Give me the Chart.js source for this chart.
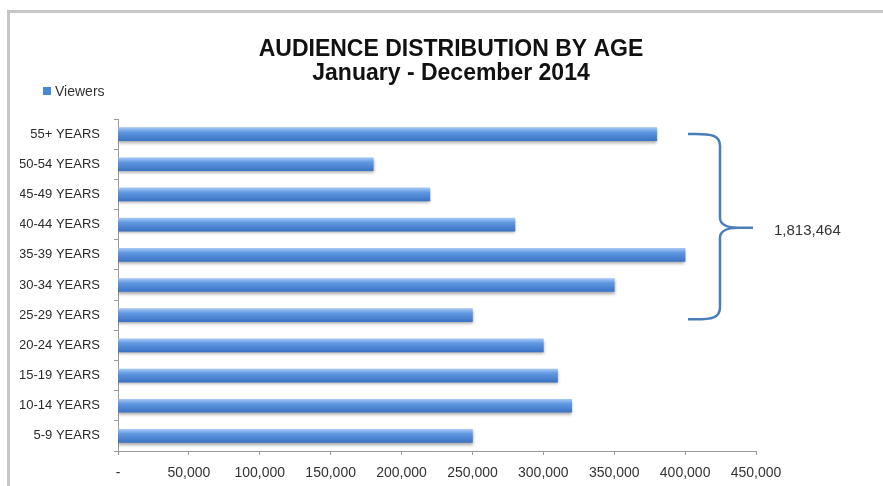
<!DOCTYPE html>
<html>
<head>
<meta charset="utf-8">
<script src="https://cdn.jsdelivr.net/npm/chart.js@4/dist/chart.umd.min.js"></script>
<style>
  html, body { margin: 0; padding: 0; background: #fff; }
  .wrap { position: relative; width: 883px; height: 486px; overflow: hidden; }
  .frame { position: absolute; left: 7px; top: 10px; right: -10px; bottom: -10px;
    border-left: 3px solid #c6c6c6; border-top: 3px solid #c6c6c6; }
  canvas { position: absolute; left: 0; top: 0; }
</style>
</head>
<body>
<div class="wrap">
  <div class="frame"></div>
  <canvas id="chart" width="883" height="486"></canvas>
</div>
<script>
// Audience distribution by age, Jan - Dec 2014 (horizontal bars)

const titleLines = ['AUDIENCE DISTRIBUTION BY AGE', 'January - December 2014'];
const seriesName = 'Viewers';
const ageGroups = ['55+ YEARS', '50-54 YEARS', '45-49 YEARS', '40-44 YEARS', '35-39 YEARS',
    '30-34 YEARS', '25-29 YEARS', '20-24 YEARS', '15-19 YEARS', '10-14 YEARS', '5-9 YEARS'];
const viewers = [380000, 180000, 220000, 280000, 400000, 350000, 250000, 300000, 310000, 320000, 250000];
const bracketFrom = '55+ YEARS';
const bracketTo = '25-29 YEARS';
const bracketLabel = '1,813,464';

const FONT = '"Liberation Sans", Arial, sans-serif';
const BLUE = '#4a86d8';

// vertical gradient for each bar, placed with the category scale
function barGradient(c) {
    const chart = c.chart;
    const y = chart.scales.y;
    if (!y || !chart.chartArea || c.dataIndex === undefined) return BLUE;
    const py = y.getPixelForValue(c.dataIndex);
    if (!isFinite(py)) return BLUE;
    const g = chart.ctx.createLinearGradient(0, py - 6.5, 0, py + 6.5);
    g.addColorStop(0, '#a4c7f4');
    g.addColorStop(0.35, '#5f97e1');
    g.addColorStop(1, '#3c74c5');
    return g;
}

// title, legend, bracket and its total
const decorPlugin = {
    id: 'decor',
    beforeDatasetsDraw: function (chart) {
        const ctx = chart.ctx;
        ctx.save();
        ctx.shadowColor = 'rgba(0,0,0,0.35)';
        ctx.shadowBlur = 3;
        ctx.shadowOffsetY = 2;
    },
    afterDatasetsDraw: function (chart) {
        chart.ctx.restore();
    },
    afterDraw: function (chart) {
        const ctx = chart.ctx;
        const area = chart.chartArea;
        ctx.save();

        // title
        ctx.fillStyle = '#111';
        ctx.font = 'bold 23px ' + FONT;
        ctx.textAlign = 'center';
        ctx.textBaseline = 'alphabetic';
        ctx.fillText(titleLines[0], 451, 56);
        ctx.fillText(titleLines[1], 451, 80);

        // legend
        ctx.fillStyle = BLUE;
        ctx.fillRect(43, 87, 8, 8);
        ctx.fillStyle = '#333';
        ctx.font = '14px ' + FONT;
        ctx.textAlign = 'left';
        ctx.textBaseline = 'middle';
        ctx.fillText(chart.data.datasets[0].label, 55, 92);

        // bracket
        const y = chart.scales.y;
        const yT = y.getPixelForValue(ageGroups.indexOf(bracketFrom));
        const yB = y.getPixelForValue(ageGroups.indexOf(bracketTo)) + 4;
        const ym = (yT + yB) / 2 + 1;
        const xEnd = area.right - 68, xBar = area.right - 36, xTip = area.right - 3;
        ctx.strokeStyle = '#4a7ebb';
        ctx.lineWidth = 2.5;
        ctx.lineJoin = 'round';
        ctx.beginPath();
        ctx.moveTo(xEnd, yT);
        ctx.bezierCurveTo(xBar - 6, yT - 1, xBar, yT + 2, xBar, yT + 12);
        ctx.lineTo(xBar, ym - 10);
        ctx.bezierCurveTo(xBar, ym - 3, xBar + 8, ym, xBar + 18, ym);
        ctx.lineTo(xTip, ym);
        ctx.moveTo(xBar + 18, ym);
        ctx.bezierCurveTo(xBar + 8, ym, xBar, ym + 3, xBar, ym + 10);
        ctx.lineTo(xBar, yB - 12);
        ctx.bezierCurveTo(xBar, yB - 2, xBar - 6, yB + 1, xEnd, yB);
        ctx.stroke();

        ctx.fillStyle = '#333';
        ctx.font = '15px ' + FONT;
        ctx.textBaseline = 'alphabetic';
        ctx.fillText(bracketLabel, area.right + 18, ym + 7);
        ctx.restore();
    }
};

const chart = new Chart(document.getElementById('chart'), {
    type: 'bar',
    data: {
        labels: ageGroups,
        datasets: [{
            label: seriesName,
            data: viewers,
            backgroundColor: barGradient,
            borderWidth: 0,
            barThickness: 13
        }]
    },
    options: {
        indexAxis: 'y',
        responsive: false,
        animation: false,
        layout: { padding: { top: 119, left: 20, right: 127, bottom: 0 } },
        scales: {
            x: {
                min: 0, max: 450000,
                afterFit: function (s) { s.height = 35; },
                border: { color: '#9a9a9a', width: 1 },
                grid: { drawOnChartArea: false, tickLength: 4, color: '#9a9a9a' },
                ticks: {
                    stepSize: 50000,
                    padding: 10,
                    color: '#333',
                    font: { family: FONT, size: 14 },
                    callback: function (v) { return v === 0 ? '-' : v.toLocaleString('en-US'); }
                }
            },
            y: {
                afterFit: function (s) { s.width = 98; },
                border: { color: '#9a9a9a', width: 1 },
                grid: { drawOnChartArea: false, tickLength: 4, color: '#9a9a9a' },
                ticks: {
                    padding: 14,
                    color: '#2a2a2a',
                    font: { family: FONT, size: 13 }
                }
            }
        },
        plugins: {
            legend: { display: false },
            title: { display: false },
            tooltip: { enabled: false }
        }
    },
    plugins: [decorPlugin]
});
chart.update();
</script>
</body>
</html>
